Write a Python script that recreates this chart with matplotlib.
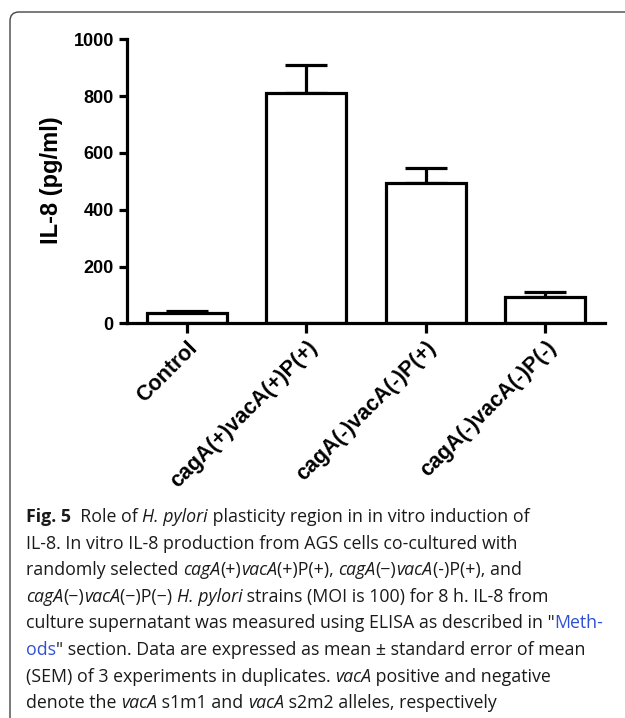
import numpy as np
import matplotlib
matplotlib.use("Agg")
import matplotlib.pyplot as plt
import matplotlib.transforms as mtransforms
from matplotlib.patches import FancyBboxPatch

# data
groups = ["Control", "cagA(+)vacA(+)P(+)", "cagA(-)vacA(-)P(+)", "cagA(-)vacA(-)P(-)"]
il8_mean = [35, 812, 493, 94]
il8_sem = [9, 96, 55, 16]
yticks = [0, 200, 400, 600, 800, 1000]

plt.rcParams['font.family'] = ['Liberation Sans', 'DejaVu Sans']

W, H = 625, 718
fig = plt.figure(figsize=(W / 100, H / 100), dpi=100)
fig.patch.set_facecolor('white')

ax = fig.add_axes([127 / W, 1 - 323.3 / H, 478 / W, 284 / H])
x = np.arange(len(groups))
lw = 2.3
ax.bar(x, il8_mean, width=0.67, color='white', edgecolor='black', linewidth=lw, zorder=3)
ax.errorbar(x, il8_mean, yerr=[np.zeros(len(x)), il8_sem], fmt='none', ecolor='black',
            elinewidth=lw, capsize=15, capthick=lw, zorder=2)

ax.set_xlim(-0.5, 3.5)
ax.set_ylim(0, 1000)
ax.set_yticks(yticks)
ax.set_yticklabels([str(v) for v in yticks], fontsize=13, fontweight='bold')
ax.set_xticks(x)
ax.set_xticklabels(groups, fontsize=15.5, fontweight='bold', rotation=45,
                   ha='right', va='top', rotation_mode='anchor')
off = mtransforms.ScaledTranslation(3 / 100, -9 / 100, fig.dpi_scale_trans)
for lab in ax.get_xticklabels():
    lab.set_transform(lab.get_transform() + off)
for s in ['top', 'right']:
    ax.spines[s].set_visible(False)
for s in ['left', 'bottom']:
    ax.spines[s].set_linewidth(lw)
ax.tick_params(axis='y', length=6, width=lw, pad=3.5)
ax.tick_params(axis='x', length=7, width=lw, pad=3)
ax.spines['bottom'].set_zorder(4)

ax.text(-0.157, 0.505, "IL-8 (pg/ml)", transform=ax.transAxes, rotation=90,
        ha='center', va='center', fontsize=17, fontweight='bold')

# rounded frame, runs off the right and bottom edges
frame = FancyBboxPatch((10, -30), 700, H - 12 + 30, boxstyle="round,pad=0,rounding_size=9",
                       transform=mtransforms.IdentityTransform(), facecolor='none',
                       edgecolor='#444444', linewidth=1.0)
fig.patches.append(frame)

# caption, drawn piece by piece so italic / bold / blue words sit inline
cap_font = ['Open Sans', 'DejaVu Sans']
cap_size = 12.8
R, I, B, L = 'r', 'i', 'b', 'l'
caption = [
    [("Fig. 5", B), ("  Role of ", R), ("H. pylori", I), (" plasticity region in in vitro induction of", R)],
    [("IL-8. In vitro IL-8 production from AGS cells co-cultured with", R)],
    [("randomly selected ", R), ("cagA", I), ("(+)", R), ("vacA", I), ("(+)P(+), ", R), ("cagA", I),
     ("(\u2212)", R), ("vacA", I), ("(-)P(+), and", R)],
    [("cagA", I), ("(\u2212)", R), ("vacA", I), ("(\u2212)P(\u2212) ", R), ("H. pylori", I),
     (" strains (MOI is 100) for 8 h. IL-8 from", R)],
    [("culture supernatant was measured using ELISA as described in \"", R), ("Meth-", L)],
    [("ods", L), ("\" section. Data are expressed as mean \u00b1 standard error of mean", R)],
    [("(SEM) of 3 experiments in duplicates. ", R), ("vacA", I), (" positive and negative", R)],
    [("denote the ", R), ("vacA", I), (" s1m1 and ", R), ("vacA", I), (" s2m2 alleles, respectively", R)],
]

renderer = fig.canvas.get_renderer()
y0 = 522
for i, line in enumerate(caption):
    xpos = 26
    ypos = y0 + i * 26.6
    for txt, st in line:
        kw = dict(fontsize=cap_size, family=cap_font, color='#1a1a1a', va='baseline', ha='left')
        if st == I:
            kw['style'] = 'italic'
        elif st == B:
            kw['weight'] = 'bold'
        elif st == L:
            kw['color'] = '#2f4fd6'
        t = fig.text(xpos / W, 1 - ypos / H, txt, **kw)
        xpos += t.get_window_extent(renderer).width

fig.savefig("out.png", dpi=100)
